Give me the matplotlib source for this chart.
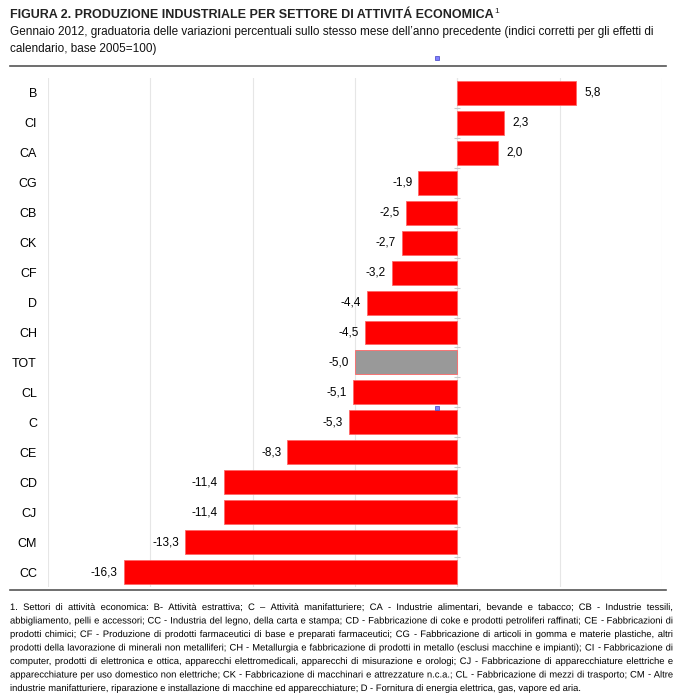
import matplotlib
matplotlib.use("Agg")
import matplotlib.pyplot as plt
import matplotlib.patheffects as pe
from matplotlib.patches import Rectangle

plt.rcParams['font.family'] = ['Liberation Sans', 'DejaVu Sans']

settori = ["B", "CI", "CA", "CG", "CB", "CK", "CF", "D", "CH", "TOT",
           "CL", "C", "CE", "CD", "CJ", "CM", "CC"]
variazioni = [5.8, 2.3, 2.0, -1.9, -2.5, -2.7, -3.2, -4.4, -4.5, -5.0,
              -5.1, -5.3, -8.3, -11.4, -11.4, -13.3, -16.3]
griglia = [-20, -15, -10, -5, 0, 5, 10]

titolo = "FIGURA 2. PRODUZIONE INDUSTRIALE PER SETTORE DI ATTIVITÁ ECONOMICA"
sottotitolo = ["Gennaio 2012, graduatoria delle variazioni percentuali sullo stesso mese dell’anno precedente (indici corretti per gli effetti di",
               "calendario, base 2005=100)"]
nota = [
    "1. Settori di attività economica: B- Attività estrattiva; C – Attività manifatturiere; CA - Industrie alimentari, bevande e tabacco; CB - Industrie tessili,",
    "abbigliamento, pelli e accessori; CC - Industria del legno, della carta e stampa; CD - Fabbricazione di coke e prodotti petroliferi raffinati; CE - Fabbricazioni di",
    "prodotti chimici; CF - Produzione di prodotti farmaceutici di base e preparati farmaceutici; CG - Fabbricazione di articoli in gomma e materie plastiche, altri",
    "prodotti della lavorazione di minerali non metalliferi; CH - Metallurgia e fabbricazione di prodotti in metallo (esclusi macchine e impianti); CI - Fabbricazione di",
    "computer, prodotti di elettronica e ottica, apparecchi elettromedicali, apparecchi di misurazione e orologi; CJ - Fabbricazione di apparecchiature elettriche e",
    "apparecchiature per uso domestico non elettriche; CK - Fabbricazione di macchinari e attrezzature n.c.a.; CL - Fabbricazione di mezzi di trasporto; CM - Altre",
    "industrie manifatturiere, riparazione e installazione di macchine ed apparecchiature; D - Fornitura di energia elettrica, gas, vapore ed aria.",
]

W, H = 683, 699
fig = plt.figure(figsize=(W / 100, H / 100), dpi=100)
fig.canvas.draw()
r = fig.canvas.get_renderer()

def fx(px):
    return px / W

def fy(py):
    return 1 - py / H

def testo_largo(x, y, s, largh, **kw):
    # adatta la dimensione del font alla larghezza voluta (in pixel)
    t = fig.text(fx(x), fy(y), s, va="baseline", ha="left", fontsize=10, **kw)
    w = t.get_window_extent(r).width
    t.set_fontsize(10 * largh / w)
    return t

# titolo e sottotitolo
t = testo_largo(10, 18, titolo, 481, fontweight="bold", color="#222222")
bb = t.get_window_extent(r)
fig.text(bb.x1 / W + fx(1), fy(13), "1", fontsize=6, color="#222222", va="baseline")
s1 = testo_largo(10, 35, sottotitolo[0], 650, color="#111111")
fig.text(fx(10), fy(52), sottotitolo[1], fontsize=s1.get_fontsize(), color="#111111",
         va="baseline", ha="left")

# linee orizzontali
fig.add_artist(plt.Line2D([fx(10), fx(666)], [fy(66), fy(66)], color="#555555", lw=1.2))
fig.add_artist(plt.Line2D([fx(10), fx(666)], [fy(590), fy(590)], color="#555555", lw=1.2))

# piccoli marcatori blu
for py in [60, 410]:
    fig.add_artist(Rectangle((fx(435), fy(py)), fx(4), 4 / H,
                             facecolor="#8080ff", edgecolor="#4040c0", lw=0.5))

ax = fig.add_axes([fx(48), fy(587), fx(662) - fx(48), (587 - 78) / H])
pos = list(range(len(settori)))
colori = ["#999999" if s == "TOT" else "#ff0000" for s in settori]
ax.barh(pos, variazioni, height=0.8, color=colori, edgecolor="#ff6666", linewidth=0.6, zorder=3)
ax.set_ylim(len(settori) - 0.5, -0.5)
ax.set_xlim(griglia[0], griglia[-1])
ax.set_xticks(griglia)
ax.set_xticklabels([])
ax.tick_params(axis="x", length=0)
ax.grid(axis="x", color="#e6e6e6", lw=0.8, zorder=0)
ax.set_yticks(pos)
ax.set_yticklabels(settori, fontsize=9)
ax.tick_params(axis="y", length=0, pad=8)
for s in ax.spines.values():
    s.set_visible(False)
ax.axvline(0, color="#dddddd", lw=0.8, zorder=1)
confini = [p + 0.5 for p in pos[:-1]]
ax.scatter([0] * len(confini), confini, marker="_", s=20, color="#cccccc", lw=0.8, zorder=2)

for p, v in zip(pos, variazioni):
    etichetta = f"{v:.1f}".replace(".", ",")
    if v >= 0:
        ax.text(v + 0.4, p, etichetta, va="center", ha="left", fontsize=8.5)
    else:
        ax.text(v - 0.3, p, etichetta, va="center", ha="right", fontsize=8.5)

# nota giustificata (parole come tracciati per evitare salti di un pixel)
x0, x1 = 10, 673
prova = fig.text(0, 0, nota[3], fontsize=10)
fs = 10 * (x1 - x0) / prova.get_window_extent(r).width * 0.99
prova.remove()
eff = [pe.Normal()]

def parola(y, p):
    if p in ("-", "–"):
        return fig.text(0, y, p, fontsize=fs, va="baseline", ha="left")
    return fig.text(0, y, p, fontsize=fs, va="baseline", ha="left", path_effects=eff)

for i, riga in enumerate(nota):
    yy = fy(610 + i * 13.5)
    parole = riga.split(" ")
    testi = [parola(yy, p) for p in parole]
    larg = [tt.get_window_extent(r).width for tt in testi]
    if i == len(nota) - 1:
        spazio = fs * 0.278 * 100 / 72
    else:
        spazio = (x1 - x0 - sum(larg)) / (len(parole) - 1)
    x = x0
    for tt, w in zip(testi, larg):
        tt.set_x(fx(x))
        x += w + spazio

fig.savefig("out.png", dpi=100)
